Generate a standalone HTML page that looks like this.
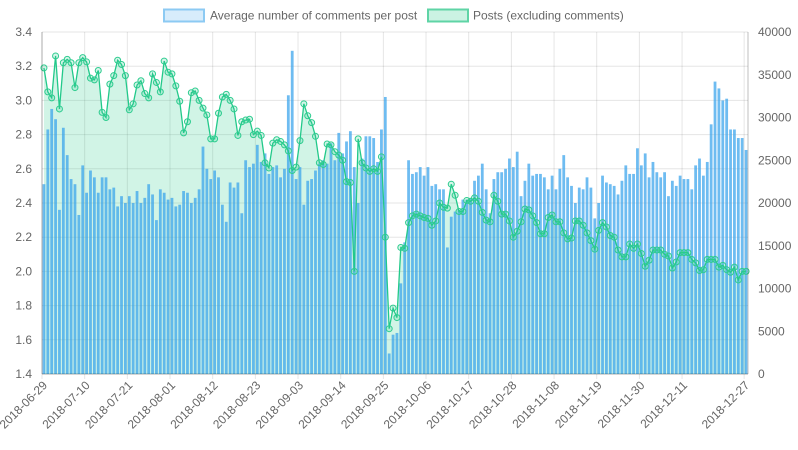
<!DOCTYPE html>
<html><head><meta charset="utf-8">
<style>
html,body{margin:0;padding:0;background:#fff;}
svg{display:block;font-family:"Liberation Sans",Arial,sans-serif;}
</style></head>
<body>
<svg id="chart" width="798" height="450" viewBox="0 0 798 450" xmlns="http://www.w3.org/2000/svg">
<g id="legend">
  <g>
    <rect x="164" y="9.5" width="40" height="12" fill="rgba(54,162,235,0.2)" stroke="#8ccaf3" stroke-width="2"/>
    <text x="210" y="19.5" font-size="12" fill="#666">Average number of comments per post</text>
  </g>
  <g>
    <rect x="428" y="9.5" width="40" height="12" fill="rgba(46,204,143,0.25)" stroke="#5fd4a6" stroke-width="2"/>
    <text x="473" y="19.5" font-size="12" fill="#666">Posts (excluding comments)</text>
  </g>
</g>
<g id="grid"></g>
<g id="fill"></g>
<g id="bars"></g>
<g id="line"></g>
<g id="axes"></g>
</svg>
<script>
const startDate = "2018-06-29";
const avgComments = [
2.51,2.83,2.95,2.89,2.36,2.84,2.68,2.54,2.51,2.33,2.62,2.46,2.59,2.55,2.46,2.55,2.55,2.48,2.49,2.38,2.44,2.40,2.44,
2.40,2.47,2.40,2.43,2.51,2.45,2.30,2.48,2.46,2.42,2.43,2.38,2.39,2.47,2.46,2.40,2.43,2.48,2.73,2.60,2.54,2.59,
2.55,
2.39,2.29,2.52,2.49,2.52,2.34,2.65,2.61,2.63,2.74,2.64,2.69,2.57,2.61,2.62,2.55,2.60,3.03,3.29,2.54,2.61,2.39,2.53,
2.54,2.59,2.63,2.65,2.63,2.75,2.65,2.81,2.69,2.76,2.82,2.61,2.40,2.66,2.79,2.79,2.78,2.64,2.83,3.02,1.52,1.63,1.64,
1.93,
2.17,2.65,2.57,2.58,2.61,2.56,2.61,2.50,2.51,2.48,2.48,2.14,2.32,2.35,2.36,2.42,2.42,2.43,2.53,2.56,2.63,2.48,2.34,2.54,2.58,2.58,2.60,2.66,2.61,2.70,
2.44,2.53,2.63,2.56,2.57,2.57,2.55,2.48,2.56,2.48,2.60,2.68,2.55,2.50,2.40,2.49,2.48,2.55,2.49,2.31,2.40,2.56,2.52,2.51,2.50,2.45,2.53,2.62,2.57,2.57,2.72,
2.62,2.69,2.55,2.64,2.58,2.55,2.58,2.44,2.53,2.50,2.56,2.54,2.54,2.48,2.62,2.66,2.56,2.64,2.86,3.11,3.07,3.00,3.01,2.83,2.83,2.78,2.78,2.71
];
const postsK = [
35.8,33.0,32.3,37.2,31.0,36.4,36.8,36.4,33.5,36.4,37.0,36.5,34.6,34.4,35.5,30.6,30.0,33.9,34.9,36.7,36.2,34.9,30.9,
31.6,33.8,34.3,32.8,32.3,35.1,34.1,33.0,36.6,35.3,35.1,33.7,31.9,28.2,29.5,32.9,33.1,32.0,31.1,30.3,27.5,27.5,30.5,
32.4,32.7,32.0,31.0,27.9,29.5,29.7,29.8,28.0,28.4,27.9,24.7,24.1,27.0,27.4,27.2,26.8,26.1,23.8,24.2,27.3,31.6,30.2,
29.4,27.8,24.7,24.5,26.9,26.8,26.0,25.6,25.0,22.5,22.4,12.0,27.5,24.7,24.1,23.7,24.0,23.7,25.4,16.0,5.3,7.7,6.6,14.8,
14.7,17.7,18.5,18.7,18.5,18.3,18.2,17.4,17.9,20.0,19.5,19.4,22.2,20.9,19.0,19.0,20.3,20.2,20.6,20.2,18.9,18.0,17.8,20.9,20.2,18.7,18.7,17.9,16.0,16.7,17.8,
19.3,19.2,18.5,17.7,16.4,16.4,18.3,18.6,17.8,17.8,16.5,15.8,15.9,17.9,17.9,17.4,16.5,15.6,14.6,16.8,17.7,17.2,16.2,16.0,14.5,13.7,13.7,15.2,14.7,15.2,14.1,
12.6,13.3,14.5,14.5,14.5,14.0,13.8,12.4,13.1,14.2,14.2,14.2,13.4,13.0,12.1,12.2,13.4,13.4,13.4,12.5,12.7,12.2,11.9,12.5,11.0,12.0,12.0
];
const leftTicks = [1.4,1.6,1.8,2.0,2.2,2.4,2.6,2.8,3.0,3.2,3.4];
const rightTicks = [0,5000,10000,15000,20000,25000,30000,35000,40000];

const NS="http://www.w3.org/2000/svg";
function mk(tag,attrs,parent){const e=document.createElementNS(NS,tag);for(const k in attrs)e.setAttribute(k,attrs[k]);parent.appendChild(e);return e;}
const L=42,R=748,T=32,B=374;
const N=avgComments.length;
const cw=(R-L)/N;
const categories=[];
(function(){const d=new Date(startDate+"T00:00:00Z");for(let i=0;i<N;i++){const t=new Date(d.getTime()+i*86400000);categories.push(t.toISOString().slice(0,10));}})();
function xC(i){return L+(i+0.5)*cw;}
function yL(v){return B-(v-1.4)/(3.4-1.4)*(B-T);}
function yR(v){return B-v/40000*(B-T);}

const grid=document.getElementById('grid'),axes=document.getElementById('axes');
leftTicks.forEach(v=>{
  const y=yL(v);
  const gl=mk('line',{x1:L,x2:R,y1:y,y2:y,stroke:'rgba(0,0,0,0.1)','stroke-width':1},grid);
  
  
  const t=mk('text',{x:32,y:y+4,'font-size':12,fill:'#666','text-anchor':'end'},axes);
  t.textContent=v.toFixed(1);
  
  
});
rightTicks.forEach(v=>{
  const y=yR(v);
  const t=mk('text',{x:758,y:y+4,'font-size':12,fill:'#666','text-anchor':'start'},axes);
  t.textContent=String(v);
  
  
});
const labelIdx=[];
for(let i=0;i<N;i+=11){ if(N-1-i>=11 || i===N-1) labelIdx.push(i); }
if(labelIdx[labelIdx.length-1]!==N-1)labelIdx.push(N-1);
labelIdx.forEach(i=>{
  const gx=L+i*cw;
  const gl=mk('line',{x1:gx,x2:gx,y1:T,y2:B+5,stroke:'rgba(0,0,0,0.1)','stroke-width':1},grid);
  
  
  const x=xC(i)+4,y=386;
  const t=mk('text',{x:x,y:y,'font-size':12,fill:'#666','text-anchor':'end',transform:`rotate(-45 ${x} ${y})`},axes);
  t.textContent=categories[i];
  
  
});
[L,R].forEach(x=>{const a=mk('line',{x1:x,x2:x,y1:T,y2:B,stroke:'rgba(0,0,0,0.25)','stroke-width':1},axes);
  
  });
const bl=mk('line',{x1:L,x2:R,y1:B,y2:B,stroke:'rgba(0,0,0,0.25)','stroke-width':1},axes);



let pts=postsK.map((v,i)=>[xC(i),yR(v*1000)]);
let d='M'+xC(0)+','+B+' '+pts.map(p=>'L'+p[0].toFixed(2)+','+p[1].toFixed(2)).join(' ')+' L'+xC(N-1)+','+B+' Z';
const area=mk('path',{d:d,fill:'rgba(46,204,143,0.22)',stroke:'none'},document.getElementById('fill'));



const bars=document.getElementById('bars');
const bw=cw*0.72;
avgComments.forEach((v,i)=>{
  const y=yL(v);
  const r=mk('rect',{x:(xC(i)-bw/2).toFixed(2),y:y.toFixed(2),width:bw.toFixed(2),height:(B-y).toFixed(2),fill:'rgba(54,162,235,0.72)'},bars);
  
  
});

const lg=document.getElementById('line');
const pl=mk('polyline',{points:pts.map(p=>p[0].toFixed(2)+','+p[1].toFixed(2)).join(' '),fill:'none',stroke:'#22c98a','stroke-width':1.3},lg);


pts.forEach((p,i)=>{
  const c=mk('circle',{cx:p[0].toFixed(2),cy:p[1].toFixed(2),r:3,fill:'rgba(46,204,143,0.2)',stroke:'#2ecc8f','stroke-width':1},lg);
  
  
});
</script>
</body></html>
